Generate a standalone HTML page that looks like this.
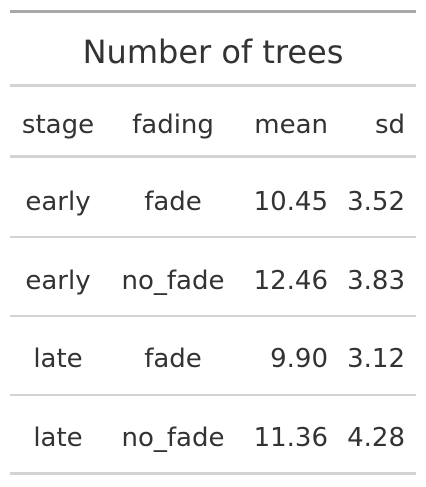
<!DOCTYPE html>
<html><head><meta charset="utf-8">
<style>
html,body{margin:0;padding:0;background:#fff;}
body{width:426px;height:487px;position:relative;overflow:hidden;font-family:"DejaVu Sans","Liberation Sans",sans-serif;color:#333;}
.line{position:absolute;left:10px;width:406px;background:#d3d3d3;}
.t{position:absolute;font-size:26px;line-height:30px;white-space:nowrap;}
.c{transform:translateX(-50%);}
.r{transform:translateX(-100%);}
</style></head><body>
<div class="line" style="top:10px;height:3px;background:#a8a8a8"></div>
<div class="t c" style="left:213px;top:33px;font-size:32px;line-height:38px">Number of trees</div>
<div class="line" style="top:84px;height:3px"></div>
<div class="t c" style="left:58px;top:110px">stage</div>
<div class="t c" style="left:173px;top:110px">fading</div>
<div class="t r" style="left:328px;top:110px">mean</div>
<div class="t r" style="left:405px;top:110px">sd</div>
<div class="line" style="top:155px;height:3px"></div>

<div class="t c" style="left:58px;top:187px">early</div>
<div class="t c" style="left:173px;top:187px">fade</div>
<div class="t r" style="left:328px;top:187px">10.45</div>
<div class="t r" style="left:405px;top:187px">3.52</div>
<div class="line" style="top:236px;height:2px"></div>

<div class="t c" style="left:58px;top:266px">early</div>
<div class="t c" style="left:173px;top:266px">no_fade</div>
<div class="t r" style="left:328px;top:266px">12.46</div>
<div class="t r" style="left:405px;top:266px">3.83</div>
<div class="line" style="top:315px;height:2px"></div>

<div class="t c" style="left:58px;top:344px">late</div>
<div class="t c" style="left:173px;top:344px">fade</div>
<div class="t r" style="left:328px;top:344px">9.90</div>
<div class="t r" style="left:405px;top:344px">3.12</div>
<div class="line" style="top:394px;height:2px"></div>

<div class="t c" style="left:58px;top:423px">late</div>
<div class="t c" style="left:173px;top:423px">no_fade</div>
<div class="t r" style="left:328px;top:423px">11.36</div>
<div class="t r" style="left:405px;top:423px">4.28</div>
<div class="line" style="top:472px;height:3px"></div>
</body></html>
